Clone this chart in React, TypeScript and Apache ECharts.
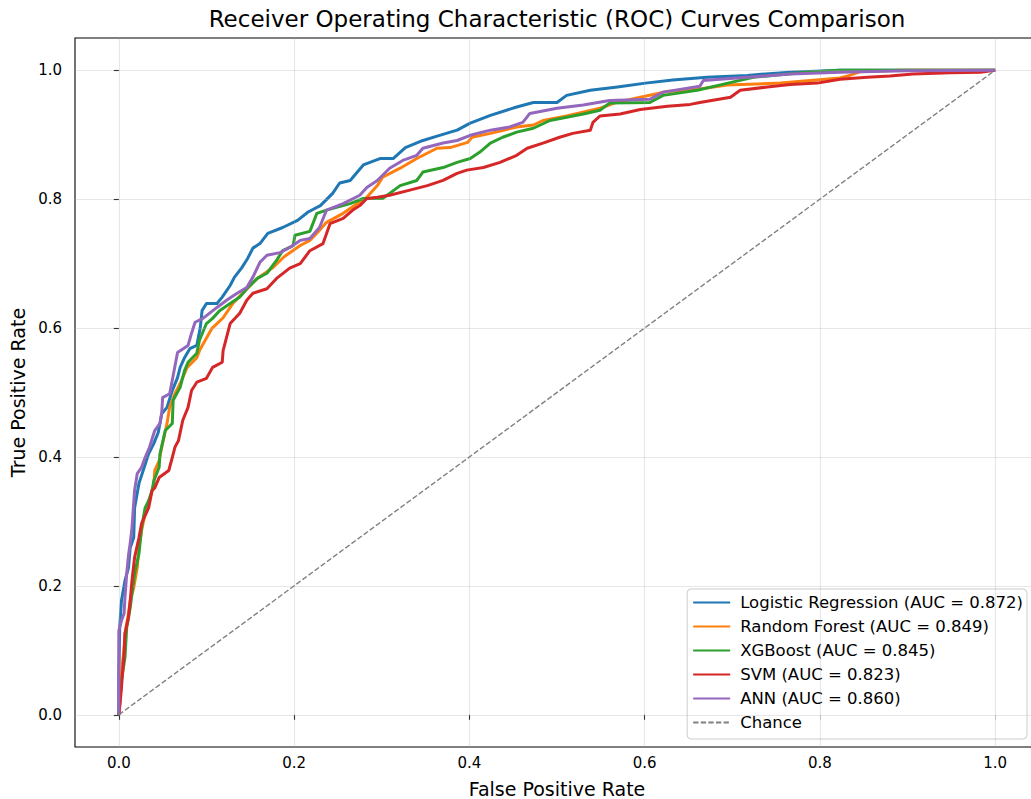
import React, { useEffect, useRef } from "react";
import * as echarts from "echarts";

const FONT = "DejaVu Sans";

const tickValues = [0, 0.2, 0.4, 0.6, 0.8, 1.0];

const seriesNames = [
  "Logistic Regression (AUC = 0.872)",
  "Random Forest (AUC = 0.849)",
  "XGBoost (AUC = 0.845)",
  "SVM (AUC = 0.823)",
  "ANN (AUC = 0.860)",
  "Chance",
];

const seriesColors = ["#1f77b4", "#ff7f0e", "#2ca02c", "#d62728", "#9467bd", "#808080"];

// [False Positive Rate, True Positive Rate]
const lrRoc = [
  [0, 0], [0, 0.064], [0.001, 0.135], [0.003, 0.177], [0.007, 0.208], [0.011, 0.228], [0.013, 0.259],
  [0.017, 0.275], [0.018, 0.321], [0.023, 0.359], [0.029, 0.384], [0.034, 0.405], [0.04, 0.421],
  [0.045, 0.438], [0.049, 0.467], [0.055, 0.477], [0.061, 0.503], [0.067, 0.523], [0.07, 0.539],
  [0.075, 0.554], [0.081, 0.568], [0.089, 0.573], [0.093, 0.601], [0.095, 0.627], [0.1, 0.638],
  [0.112, 0.638], [0.118, 0.648], [0.127, 0.666], [0.132, 0.679], [0.14, 0.693], [0.147, 0.708],
  [0.153, 0.724], [0.161, 0.731], [0.17, 0.747], [0.187, 0.756], [0.204, 0.767], [0.216, 0.78],
  [0.23, 0.79], [0.244, 0.809], [0.252, 0.825], [0.264, 0.829], [0.279, 0.853], [0.298, 0.863],
  [0.313, 0.863], [0.327, 0.88], [0.347, 0.891], [0.366, 0.899], [0.386, 0.907], [0.401, 0.918],
  [0.424, 0.93], [0.454, 0.943], [0.473, 0.95], [0.5, 0.95], [0.511, 0.961], [0.538, 0.969],
  [0.569, 0.974], [0.601, 0.98], [0.632, 0.985], [0.671, 0.989], [0.717, 0.992], [0.766, 0.997],
  [0.823, 1.0], [1, 1],
];

const rfRoc = [
  [0, 0], [0.001, 0.017], [0.003, 0.064], [0.006, 0.104], [0.007, 0.126], [0.011, 0.157], [0.013, 0.177],
  [0.017, 0.197], [0.021, 0.228], [0.023, 0.259], [0.026, 0.286], [0.03, 0.312], [0.034, 0.328],
  [0.04, 0.359], [0.041, 0.379], [0.046, 0.394], [0.049, 0.415], [0.055, 0.452], [0.058, 0.477],
  [0.064, 0.498], [0.07, 0.514], [0.078, 0.539], [0.089, 0.554], [0.092, 0.565], [0.106, 0.599],
  [0.119, 0.616], [0.13, 0.638], [0.142, 0.655], [0.158, 0.677], [0.176, 0.694], [0.189, 0.711],
  [0.207, 0.728], [0.218, 0.736], [0.226, 0.747], [0.237, 0.764], [0.256, 0.778], [0.272, 0.793],
  [0.283, 0.803], [0.295, 0.821], [0.301, 0.834], [0.321, 0.848], [0.34, 0.863], [0.363, 0.879],
  [0.378, 0.88], [0.398, 0.888], [0.403, 0.896], [0.424, 0.902], [0.454, 0.912], [0.473, 0.915],
  [0.484, 0.922], [0.511, 0.929], [0.549, 0.941], [0.568, 0.95], [0.595, 0.958], [0.626, 0.967],
  [0.663, 0.971], [0.694, 0.977], [0.755, 0.98], [0.823, 0.988], [0.834, 0.992], [0.846, 0.998],
  [0.892, 1.0], [1, 1],
];

const xgbRoc = [
  [0, 0], [0.001, 0.017], [0.003, 0.053], [0.007, 0.089], [0.009, 0.135], [0.013, 0.166], [0.015, 0.188],
  [0.018, 0.219], [0.023, 0.25], [0.026, 0.29], [0.03, 0.321], [0.034, 0.332], [0.038, 0.348],
  [0.04, 0.363], [0.046, 0.384], [0.047, 0.405], [0.053, 0.441], [0.061, 0.452], [0.062, 0.488],
  [0.07, 0.508], [0.075, 0.534], [0.079, 0.547], [0.089, 0.561], [0.092, 0.581], [0.1, 0.607],
  [0.107, 0.615], [0.115, 0.627], [0.127, 0.638], [0.138, 0.648], [0.146, 0.661], [0.158, 0.677],
  [0.169, 0.685], [0.18, 0.705], [0.187, 0.72], [0.199, 0.728], [0.201, 0.744], [0.218, 0.75],
  [0.226, 0.778], [0.237, 0.783], [0.264, 0.793], [0.279, 0.801], [0.301, 0.801], [0.309, 0.809],
  [0.321, 0.821], [0.34, 0.829], [0.347, 0.842], [0.37, 0.849], [0.386, 0.857], [0.401, 0.863],
  [0.412, 0.873], [0.424, 0.887], [0.438, 0.896], [0.454, 0.904], [0.473, 0.91], [0.492, 0.922],
  [0.511, 0.927], [0.53, 0.932], [0.549, 0.938], [0.56, 0.949], [0.606, 0.95], [0.621, 0.961],
  [0.66, 0.969], [0.689, 0.978], [0.724, 0.989], [0.785, 0.997], [0.823, 1.0], [1, 1],
];

const svmRoc = [
  [0, 0], [0.001, 0.011], [0.003, 0.042], [0.006, 0.095], [0.007, 0.126], [0.011, 0.151], [0.013, 0.177],
  [0.015, 0.208], [0.018, 0.244], [0.023, 0.275], [0.026, 0.297], [0.034, 0.321], [0.038, 0.348],
  [0.041, 0.352], [0.046, 0.368], [0.057, 0.379], [0.061, 0.399], [0.064, 0.415], [0.068, 0.425],
  [0.073, 0.457], [0.079, 0.477], [0.083, 0.503], [0.089, 0.516], [0.1, 0.522], [0.107, 0.539],
  [0.118, 0.547], [0.119, 0.565], [0.127, 0.607], [0.138, 0.623], [0.146, 0.643], [0.153, 0.654],
  [0.169, 0.661], [0.18, 0.677], [0.195, 0.693], [0.207, 0.7], [0.218, 0.72], [0.233, 0.731],
  [0.241, 0.762], [0.256, 0.77], [0.267, 0.783], [0.275, 0.79], [0.283, 0.801], [0.295, 0.803],
  [0.309, 0.806], [0.332, 0.814], [0.352, 0.821], [0.37, 0.829], [0.386, 0.84], [0.397, 0.845],
  [0.416, 0.849], [0.435, 0.857], [0.454, 0.868], [0.466, 0.879], [0.484, 0.887], [0.503, 0.896],
  [0.518, 0.902], [0.538, 0.907], [0.541, 0.919], [0.549, 0.929], [0.572, 0.932], [0.595, 0.939],
  [0.626, 0.944], [0.652, 0.947], [0.663, 0.95], [0.698, 0.958], [0.709, 0.969], [0.74, 0.974],
  [0.766, 0.978], [0.797, 0.98], [0.823, 0.986], [0.854, 0.989], [0.88, 0.991], [0.906, 0.994],
  [0.949, 0.996], [0.983, 0.997], [1, 1],
];

const annRoc = [
  [0, 0], [0, 0.073], [0, 0.13], [0.003, 0.146], [0.006, 0.157], [0.007, 0.182], [0.009, 0.219],
  [0.011, 0.247], [0.013, 0.266], [0.015, 0.29], [0.018, 0.348], [0.021, 0.374], [0.026, 0.384],
  [0.03, 0.399], [0.035, 0.415], [0.041, 0.441], [0.047, 0.452], [0.049, 0.469], [0.05, 0.492],
  [0.058, 0.498], [0.061, 0.519], [0.067, 0.562], [0.079, 0.573], [0.083, 0.592], [0.087, 0.609],
  [0.096, 0.615], [0.112, 0.632], [0.123, 0.643], [0.135, 0.654], [0.146, 0.663], [0.153, 0.679],
  [0.161, 0.702], [0.169, 0.713], [0.184, 0.717], [0.195, 0.725], [0.207, 0.736], [0.218, 0.739],
  [0.229, 0.756], [0.237, 0.783], [0.256, 0.793], [0.275, 0.806], [0.283, 0.818], [0.295, 0.829],
  [0.309, 0.848], [0.324, 0.86], [0.34, 0.868], [0.347, 0.879], [0.37, 0.887], [0.386, 0.891],
  [0.401, 0.899], [0.424, 0.907], [0.446, 0.912], [0.461, 0.919], [0.469, 0.933], [0.5, 0.941],
  [0.53, 0.946], [0.56, 0.953], [0.606, 0.955], [0.621, 0.966], [0.663, 0.975], [0.667, 0.984],
  [0.717, 0.989], [0.766, 0.994], [0.823, 0.997], [0.9, 0.999], [1, 1],
];

const chanceLine = [
  [0, 0],
  [1, 1],
];

const rocData = [lrRoc, rfRoc, xgbRoc, svmRoc, annRoc];

export default function App() {
  const ref = useRef<HTMLDivElement>(null);

  useEffect(() => {
    if (!ref.current) return;
    const chart = echarts.init(ref.current, undefined, { renderer: "svg" });

    const gridLineStyle = { color: "rgba(176,176,176,0.3)", width: 1.1, type: "solid" as const };

    const series: any[] = [
      {
        name: "__grid",
        type: "line",
        data: [],
        silent: true,
        z: 1,
        markLine: {
          silent: true,
          symbol: ["none", "none"],
          label: { show: false },
          lineStyle: gridLineStyle,
          emphasis: { disabled: true },
          data: [
            ...tickValues.map((v) => ({ xAxis: v })),
            ...tickValues.map((v) => ({ yAxis: v })),
          ],
        },
      },
    ];

    rocData.forEach((d, i) => {
      series.push({
        name: seriesNames[i],
        type: "line",
        data: d,
        showSymbol: false,
        symbol: "none",
        z: 2 + i,
        lineStyle: { color: seriesColors[i], width: 3, join: "round" },
        itemStyle: { color: seriesColors[i] },
        emphasis: { disabled: true },
      });
    });

    series.push({
      name: seriesNames[5],
      type: "line",
      data: chanceLine,
      showSymbol: false,
      symbol: "none",
      z: 10,
      lineStyle: { color: seriesColors[5], width: 1.4, type: [5.3, 2.3] },
      itemStyle: { color: seriesColors[5] },
      emphasis: { disabled: true },
    });

    const axisCommon = {
      type: "value" as const,
      min: -0.05,
      max: 1.05,
      nameLocation: "middle" as const,
      nameTextStyle: { fontFamily: FONT, fontSize: 19, color: "#000" },
      axisLine: { show: false },
      splitLine: { show: false },
      axisTick: {
        show: true,
        inside: false,
        length: 5,
        lineStyle: { color: "#000", width: 1.1 },
        customValues: tickValues,
      },
    };

    chart.setOption({
      animation: false,
      backgroundColor: "#ffffff",
      title: {
        text: "Receiver Operating Characteristic (ROC) Curves Comparison",
        left: 557,
        top: 7,
        padding: 0,
        textAlign: "center",
        textStyle: { fontFamily: FONT, fontSize: 23, fontWeight: "normal", color: "#000" },
      },
      legend: {
        data: seriesNames,
        orient: "vertical",
        right: 13,
        bottom: 60,
        align: "left",
        itemWidth: 37,
        itemHeight: 14,
        itemGap: 7,
        padding: [5, 4, 8, 5],
        backgroundColor: "rgba(255,255,255,0.8)",
        borderColor: "#cccccc",
        borderWidth: 1,
        borderRadius: 4,
        selectedMode: false,
        itemStyle: { opacity: 0 },
        textStyle: {
          fontFamily: FONT,
          fontSize: 16.5,
          lineHeight: 16,
          color: "#000",
          padding: [0, 0, 0, 5],
        },
      },
      grid: {
        left: 75,
        top: 38,
        width: 964,
        height: 709,
        show: true,
        borderColor: "#000",
        borderWidth: 1.1,
        backgroundColor: "transparent",
        containLabel: false,
        outerBoundsMode: "none",
      },
      xAxis: {
        ...axisCommon,
        name: "False Positive Rate",
        nameGap: 32,
        axisLabel: {
          fontFamily: FONT,
          fontSize: 15,
          color: "#000",
          margin: 8,
          customValues: tickValues,
          formatter: (v: number) => v.toFixed(1),
        },
      },
      yAxis: {
        ...axisCommon,
        name: "True Positive Rate",
        nameGap: 45,
        nameRotate: 90,
        axisLabel: {
          fontFamily: FONT,
          fontSize: 15,
          color: "#000",
          margin: 13,
          customValues: tickValues,
          formatter: (v: number) => v.toFixed(1),
        },
      },
      series,
    });

    return () => chart.dispose();
  }, []);

  return (
    <div style={{ position: "absolute", left: 0, top: 0, width: 1031, height: 799, overflow: "hidden" }}>
      <div ref={ref} style={{ width: 1040, height: 799 }} />
    </div>
  );
}
